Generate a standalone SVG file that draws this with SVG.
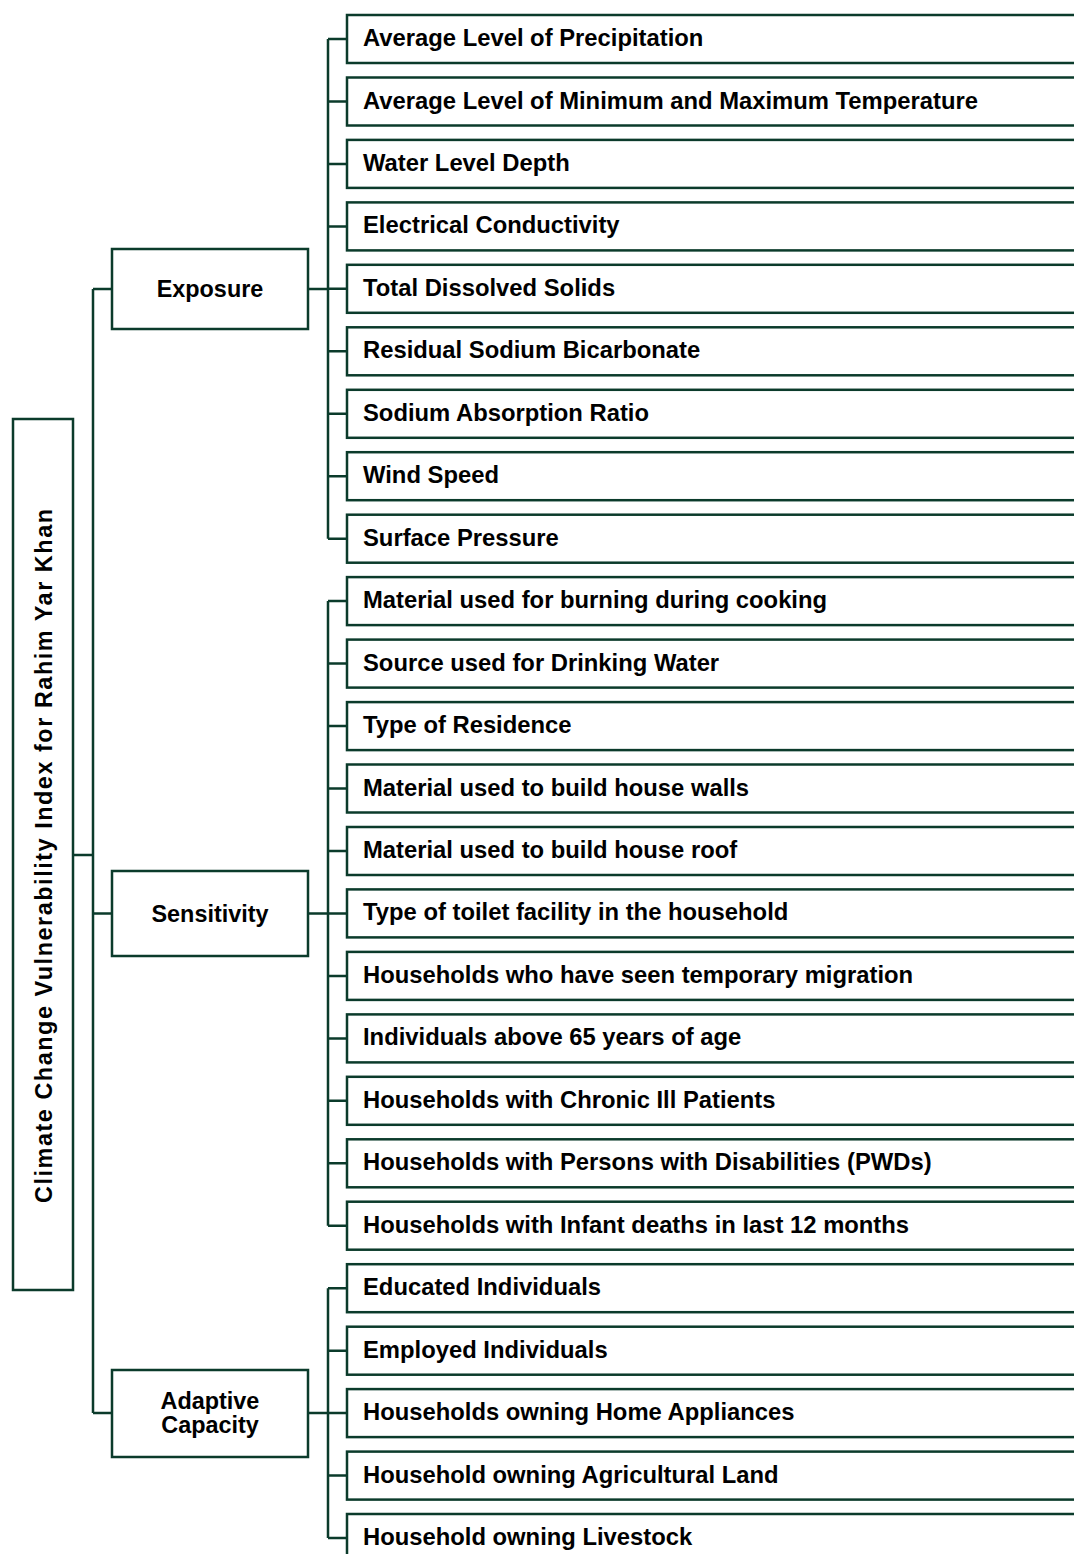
<svg xmlns="http://www.w3.org/2000/svg" width="1074" height="1554" viewBox="0 0 1074 1554">
<style>
.box{fill:#fff;stroke:#0b3b2b;stroke-width:2.5}
.t{font-family:"Liberation Sans",Arial,sans-serif;font-weight:bold;font-size:23.4px;fill:#000}
.l{font-size:23.8px}
.c{text-anchor:middle}
.ln{fill:none;stroke:#0b3b2b;stroke-width:2.5}
</style>
<rect width="1074" height="1554" fill="#fff"/>
<g id="connectors" class="ln">
<path d="M73,855H93M93,289V1413M93,289H112M93,913.4H112M93,1413H112"/>
<path d="M308,289H328M328,39V538.7M328,39H347M328,101.5H347M328,163.9H347M328,226.4H347M328,288.8H347M328,351.3H347M328,413.8H347M328,476.2H347M328,538.7H347"/>
<path d="M308,913.4H328M328,601.1V1225.7M328,601.1H347M328,663.6H347M328,726.1H347M328,788.5H347M328,851H347M328,913.4H347M328,975.9H347M328,1038.4H347M328,1100.8H347M328,1163.3H347M328,1225.7H347"/>
<path d="M308,1413H328M328,1288.2V1538M328,1288.2H347M328,1350.7H347M328,1413.1H347M328,1475.6H347M328,1538H347"/>
</g>
<g id="root"><rect class="box" x="13" y="419" width="60" height="871"/><text class="t c" transform="translate(52,856) rotate(-90)" font-size="25.5" textLength="694" lengthAdjust="spacing">Climate Change Vulnerability Index for Rahim Yar Khan</text></g>
<g id="exposure"><rect class="box" x="112" y="249" width="196" height="80"/><text class="t c" x="210" y="297">Exposure</text></g>
<g id="sensitivity"><rect class="box" x="112" y="871" width="196" height="85"/><text class="t c" x="210" y="921.5">Sensitivity</text></g>
<g id="adaptive"><rect class="box" x="112" y="1370" width="196" height="87"/><text class="t c" x="210" y="1408.5">Adaptive</text><text class="t c" x="210" y="1433">Capacity</text></g>
<g id="leaf1"><rect class="box" x="347" y="15" width="740" height="48"/><text class="t l" x="363" y="46">Average Level of Precipitation</text></g>
<g id="leaf2"><rect class="box" x="347" y="77.5" width="740" height="48"/><text class="t l" x="363" y="108.5">Average Level of Minimum and Maximum Temperature</text></g>
<g id="leaf3"><rect class="box" x="347" y="139.9" width="740" height="48"/><text class="t l" x="363" y="170.9">Water Level Depth</text></g>
<g id="leaf4"><rect class="box" x="347" y="202.4" width="740" height="48"/><text class="t l" x="363" y="233.4">Electrical Conductivity</text></g>
<g id="leaf5"><rect class="box" x="347" y="264.8" width="740" height="48"/><text class="t l" x="363" y="295.8">Total Dissolved Solids</text></g>
<g id="leaf6"><rect class="box" x="347" y="327.3" width="740" height="48"/><text class="t l" x="363" y="358.3">Residual Sodium Bicarbonate</text></g>
<g id="leaf7"><rect class="box" x="347" y="389.8" width="740" height="48"/><text class="t l" x="363" y="420.8">Sodium Absorption Ratio</text></g>
<g id="leaf8"><rect class="box" x="347" y="452.2" width="740" height="48"/><text class="t l" x="363" y="483.2">Wind Speed</text></g>
<g id="leaf9"><rect class="box" x="347" y="514.7" width="740" height="48"/><text class="t l" x="363" y="545.7">Surface Pressure</text></g>
<g id="leaf10"><rect class="box" x="347" y="577.1" width="740" height="48"/><text class="t l" x="363" y="608.1">Material used for burning during cooking</text></g>
<g id="leaf11"><rect class="box" x="347" y="639.6" width="740" height="48"/><text class="t l" x="363" y="670.6">Source used for Drinking Water</text></g>
<g id="leaf12"><rect class="box" x="347" y="702.1" width="740" height="48"/><text class="t l" x="363" y="733.1">Type of Residence</text></g>
<g id="leaf13"><rect class="box" x="347" y="764.5" width="740" height="48"/><text class="t l" x="363" y="795.5">Material used to build house walls</text></g>
<g id="leaf14"><rect class="box" x="347" y="827" width="740" height="48"/><text class="t l" x="363" y="858">Material used to build house roof</text></g>
<g id="leaf15"><rect class="box" x="347" y="889.4" width="740" height="48"/><text class="t l" x="363" y="920.4">Type of toilet facility in the household</text></g>
<g id="leaf16"><rect class="box" x="347" y="951.9" width="740" height="48"/><text class="t l" x="363" y="982.9">Households who have seen temporary migration</text></g>
<g id="leaf17"><rect class="box" x="347" y="1014.4" width="740" height="48"/><text class="t l" x="363" y="1045.4">Individuals above 65 years of age</text></g>
<g id="leaf18"><rect class="box" x="347" y="1076.8" width="740" height="48"/><text class="t l" x="363" y="1107.8">Households with Chronic Ill Patients</text></g>
<g id="leaf19"><rect class="box" x="347" y="1139.3" width="740" height="48"/><text class="t l" x="363" y="1170.3">Households with Persons with Disabilities (PWDs)</text></g>
<g id="leaf20"><rect class="box" x="347" y="1201.7" width="740" height="48"/><text class="t l" x="363" y="1232.7">Households with Infant deaths in last 12 months</text></g>
<g id="leaf21"><rect class="box" x="347" y="1264.2" width="740" height="48"/><text class="t l" x="363" y="1295.2">Educated Individuals</text></g>
<g id="leaf22"><rect class="box" x="347" y="1326.7" width="740" height="48"/><text class="t l" x="363" y="1357.7">Employed Individuals</text></g>
<g id="leaf23"><rect class="box" x="347" y="1389.1" width="740" height="48"/><text class="t l" x="363" y="1420.1">Households owning Home Appliances</text></g>
<g id="leaf24"><rect class="box" x="347" y="1451.6" width="740" height="48"/><text class="t l" x="363" y="1482.6">Household owning Agricultural Land</text></g>
<g id="leaf25"><rect class="box" x="347" y="1514" width="740" height="48"/><text class="t l" x="363" y="1545">Household owning Livestock</text></g>
</svg>
